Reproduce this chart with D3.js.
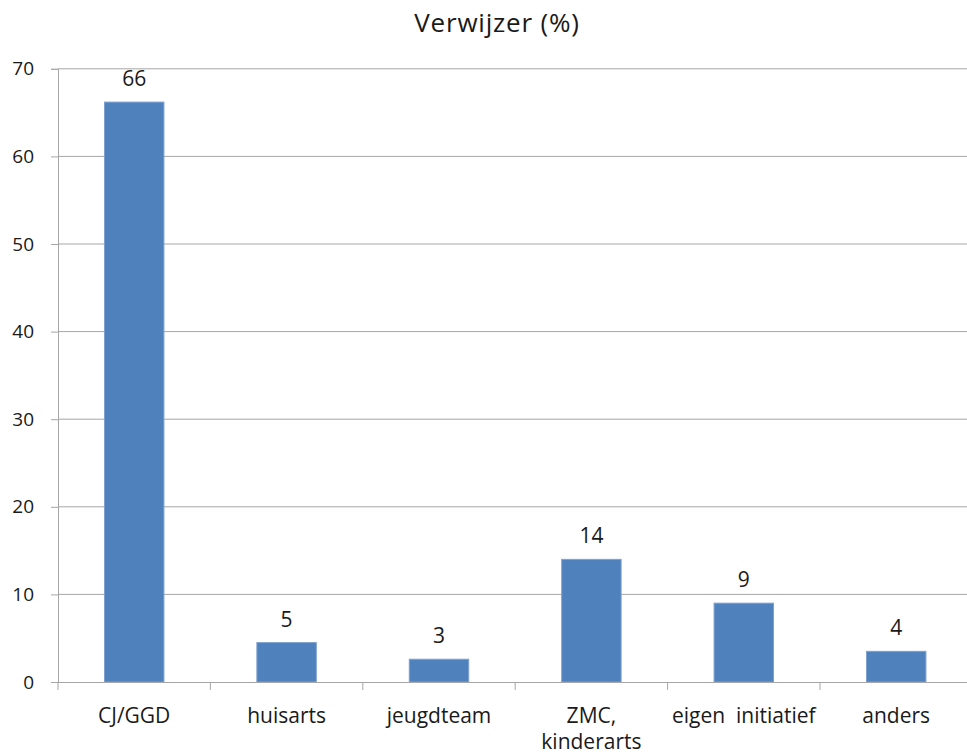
<!DOCTYPE html>
<html>
<head>
<meta charset="utf-8">
<script src="https://cdn.jsdelivr.net/npm/d3@7/dist/d3.min.js"></script>
<style>
  html, body { margin: 0; padding: 0; background: #fff; }
  svg { display: block; }
  text { font-family: "Open Sans", sans-serif; fill: #1a1a1a; }
</style>
</head>
<body>
<svg id="chart" width="967" height="755"></svg>
<script>
// ---- data ----
const title = "Verwijzer (%)";
const categories = ["CJ/GGD", "huisarts", "jeugdteam", "ZMC, kinderarts", "eigen  initiatief", "anders"];
const categoryLines = [["CJ/GGD"], ["huisarts"], ["jeugdteam"], ["ZMC,", "kinderarts"], ["eigen  initiatief"], ["anders"]];
const values = [66.2, 4.5, 2.6, 14.0, 9.0, 3.5];
const valueLabels = ["66", "5", "3", "14", "9", "4"];
const yTicks = [0, 10, 20, 30, 40, 50, 60, 70];

// ---- layout ----
const svg = d3.select("#chart");
const mLeft = 58, mRight = 972.4, mTop = 68.8, mBottom = 682;

const x = d3.scaleBand().domain(categories).range([mLeft, mRight]).padding(0);
const y = d3.scaleLinear().domain([0, 70]).range([mBottom, mTop]);
const barW = x.bandwidth() * 0.39;

// title
svg.append("text")
  .attr("x", 497).attr("y", 32)
  .attr("text-anchor", "middle")
  .style("font-size", "26px")
  .style("letter-spacing", "0.8px")
  .text(title);

// gridlines
svg.append("g").selectAll("line").data(yTicks.filter(d => d > 0)).join("line")
  .attr("x1", mLeft).attr("x2", 967)
  .attr("y1", d => y(d)).attr("y2", d => y(d))
  .attr("stroke", "#a6a6a6").attr("stroke-width", 1);

// y axis
const yAxis = d3.axisLeft(y).tickValues(yTicks).tickSize(7).tickPadding(17).tickFormat(d3.format("d"));
const gy = svg.append("g").attr("transform", `translate(${mLeft},0)`).call(yAxis);
gy.select(".domain").attr("stroke", "#a6a6a6");
gy.selectAll(".tick line").attr("stroke", "#a6a6a6");
gy.selectAll(".tick text").style("font-size", "19px").style("font-family", "Open Sans, sans-serif").attr("fill", "#1a1a1a");

// bars
svg.append("g").selectAll("rect").data(values).join("rect")
  .attr("x", (d, i) => x(categories[i]) + x.bandwidth() / 2 - barW / 2)
  .attr("y", d => y(d))
  .attr("width", barW)
  .attr("height", d => y(0) - y(d))
  .attr("fill", "#4f81bd")
  .attr("stroke", "#7ea1cf").attr("stroke-width", 1);

// x axis
const xAxis = d3.axisBottom(x).tickSize(0).tickFormat("");
const gx = svg.append("g").attr("transform", `translate(0,${mBottom})`).call(xAxis);
gx.select(".domain").attr("stroke", "#a6a6a6").attr("d", `M${mLeft - 7},0.5H967`);
// category tick marks at band boundaries
svg.append("g").selectAll("line").data(categories).join("line")
  .attr("x1", d => x(d)).attr("x2", d => x(d))
  .attr("y1", mBottom).attr("y2", mBottom + 8)
  .attr("stroke", "#a6a6a6");

// category labels
const cl = svg.append("g").selectAll("text").data(categories).join("text")
  .attr("x", d => x(d) + x.bandwidth() / 2)
  .attr("y", 723)
  .attr("text-anchor", "middle")
  .style("font-size", "21px")
  .style("white-space", "pre");
cl.each(function(d, i) {
  const t = d3.select(this);
  categoryLines[i].forEach((ln, j) => {
    t.append("tspan").attr("x", x(d) + x.bandwidth() / 2).attr("dy", j === 0 ? 0 : 26).text(ln);
  });
});

// value labels
svg.append("g").selectAll("text").data(values).join("text")
  .attr("x", (d, i) => x(categories[i]) + x.bandwidth() / 2)
  .attr("y", d => y(d) - 16)
  .attr("text-anchor", "middle")
  .style("font-size", "21px")
  .text((d, i) => valueLabels[i]);
</script>
</body>
</html>
